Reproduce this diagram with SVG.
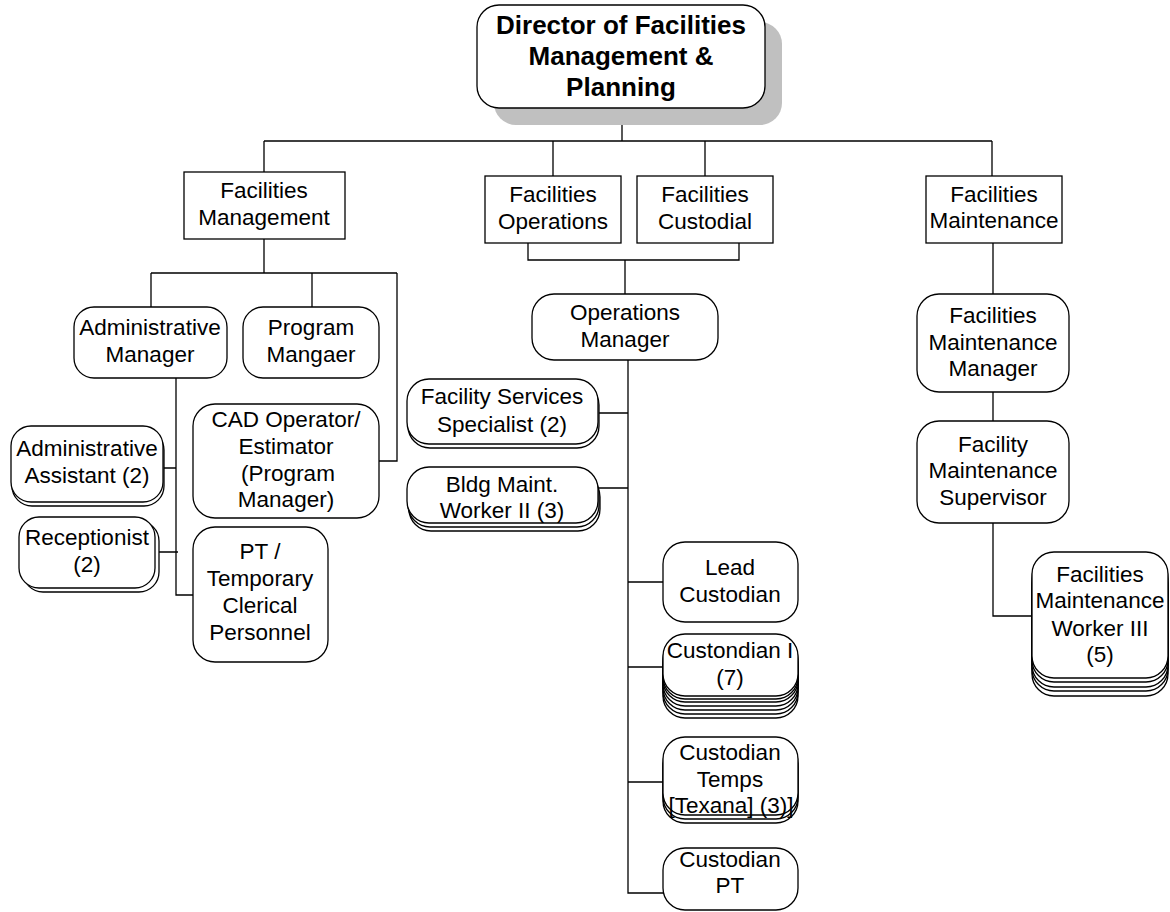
<svg xmlns="http://www.w3.org/2000/svg" width="1170" height="912" viewBox="0 0 1170 912">
  <style>
    .box { fill: #ffffff; stroke: #000000; stroke-width: 1.3; }
    .shadow { fill: #c0c0c0; stroke: none; }
    .link { fill: none; stroke: #000000; stroke-width: 1.3; }
    text { font-family: "Liberation Sans", Arial, sans-serif; font-size: 22.5px; fill: #000000; text-anchor: middle; }
    .title { font-size: 26px; font-weight: bold; }
  </style>

  <!-- connectors -->
  <g id="connectors">
    <path class="link" d="M622,108 V141 M264,141 H992 M264,141 V172 M553,141 V176 M705,141 V176 M992,141 V176"/>
    <!-- Facilities Management branch -->
    <path class="link" d="M264,239 V273 M151,273 H397 M151,273 V307 M312,273 V307 M397,273 V461 H379"/>
    <path class="link" d="M176,378 V595 H193 M163,468 H176 M155,552 H178"/>
    <!-- Operations / Custodial branch -->
    <path class="link" d="M528,243 V260 H739 V243 M625,260 V294"/>
    <path class="link" d="M628,360 V893 H663 M598,413 H628 M598,488 H628 M628,582 H663 M628,667 H663 M628,782 H663"/>
    <!-- Maintenance branch -->
    <path class="link" d="M993,243 V294 M993,392 V421 M993,523 V616 H1032"/>
  </g>

  <!-- top level -->
  <g id="director">
    <rect class="shadow" x="494" y="22" width="288" height="103" rx="22"/>
    <rect class="box" x="477" y="5" width="288" height="103" rx="22"/>
    <text class="title" x="621" y="34">Director of Facilities</text>
    <text class="title" x="621" y="65">Management &amp;</text>
    <text class="title" x="621" y="96">Planning</text>
  </g>

  <!-- departments -->
  <g id="facilities-management">
    <rect class="box" x="184" y="172" width="161" height="67"/>
    <text x="264" y="198">Facilities</text>
    <text x="264" y="225">Management</text>
  </g>
  <g id="facilities-operations">
    <rect class="box" x="485" y="176" width="136" height="67"/>
    <text x="553" y="202">Facilities</text>
    <text x="553" y="229">Operations</text>
  </g>
  <g id="facilities-custodial">
    <rect class="box" x="637" y="176" width="136" height="67"/>
    <text x="705" y="202">Facilities</text>
    <text x="705" y="229">Custodial</text>
  </g>
  <g id="facilities-maintenance">
    <rect class="box" x="926" y="176" width="136" height="67"/>
    <text x="994" y="202">Facilities</text>
    <text x="994" y="228">Maintenance</text>
  </g>

  <!-- Facilities Management staff -->
  <g id="administrative-manager">
    <rect class="box" x="74" y="307" width="153" height="71" rx="20"/>
    <text x="150" y="335">Administrative</text>
    <text x="150" y="362">Manager</text>
  </g>
  <g id="program-manager">
    <rect class="box" x="243" y="307" width="136" height="71" rx="20"/>
    <text x="311" y="335">Program</text>
    <text x="311" y="362">Mangaer</text>
  </g>
  <g id="administrative-assistant">
    <rect class="box" x="12" y="430" width="152" height="76" rx="20"/>
    <rect class="box" x="11" y="426" width="152" height="76" rx="20"/>
    <text x="87" y="456">Administrative</text>
    <text x="87" y="483">Assistant (2)</text>
  </g>
  <g id="receptionist">
    <rect class="box" x="23" y="521" width="136" height="71" rx="20"/>
    <rect class="box" x="19" y="517" width="136" height="71" rx="20"/>
    <text x="87" y="545">Receptionist</text>
    <text x="87" y="572">(2)</text>
  </g>
  <g id="cad-operator">
    <rect class="box" x="193" y="404" width="186" height="114" rx="22"/>
    <text x="286" y="427">CAD Operator/</text>
    <text x="286" y="454">Estimator</text>
    <text x="288" y="481">(Program</text>
    <text x="286" y="507">Manager)</text>
  </g>
  <g id="pt-temporary-clerical">
    <rect class="box" x="193" y="527" width="135" height="135" rx="22"/>
    <text x="260" y="559">PT /</text>
    <text x="260" y="586">Temporary</text>
    <text x="260" y="613">Clerical</text>
    <text x="260" y="640">Personnel</text>
  </g>

  <!-- Operations staff -->
  <g id="operations-manager">
    <rect class="box" x="532" y="294" width="186" height="66" rx="22"/>
    <text x="625" y="320">Operations</text>
    <text x="625" y="347">Manager</text>
  </g>
  <g id="facility-services-specialist">
    <rect class="box" x="408" y="383" width="191" height="65" rx="22"/>
    <rect class="box" x="407" y="379" width="191" height="65" rx="22"/>
    <text x="502" y="404">Facility Services</text>
    <text x="502" y="432">Specialist (2)</text>
  </g>
  <g id="bldg-maint-worker">
    <rect class="box" x="409" y="475" width="191" height="56" rx="22"/>
    <rect class="box" x="408" y="471" width="191" height="56" rx="22"/>
    <rect class="box" x="407" y="467" width="191" height="56" rx="22"/>
    <text x="502" y="492">Bldg Maint.</text>
    <text x="502" y="518">Worker II (3)</text>
  </g>
  <g id="lead-custodian">
    <rect class="box" x="663" y="542" width="135" height="80" rx="22"/>
    <text x="730" y="575">Lead</text>
    <text x="730" y="602">Custodian</text>
  </g>
  <g id="custodian-i">
    <rect class="box" x="663" y="656" width="135" height="62" rx="22"/>
    <rect class="box" x="663" y="652" width="135" height="62" rx="22"/>
    <rect class="box" x="663" y="648" width="135" height="62" rx="22"/>
    <rect class="box" x="663" y="644" width="135" height="62" rx="22"/>
    <rect class="box" x="663" y="640" width="135" height="62" rx="22"/>
    <rect class="box" x="663" y="637" width="135" height="62" rx="22"/>
    <rect class="box" x="663" y="634" width="135" height="62" rx="22"/>
    <text x="730" y="658">Custondian I</text>
    <text x="730" y="685">(7)</text>
  </g>
  <g id="custodian-temps">
    <rect class="box" x="663" y="745" width="135" height="78" rx="22"/>
    <rect class="box" x="663" y="741" width="135" height="78" rx="22"/>
    <rect class="box" x="663" y="737" width="135" height="78" rx="22"/>
    <text x="730" y="760">Custodian</text>
    <text x="730" y="787">Temps</text>
    <text x="731" y="813">[Texana] (3)]</text>
  </g>
  <g id="custodian-pt">
    <rect class="box" x="663" y="848" width="135" height="62" rx="22"/>
    <text x="730" y="867">Custodian</text>
    <text x="730" y="893">PT</text>
  </g>

  <!-- Maintenance staff -->
  <g id="facilities-maintenance-manager">
    <rect class="box" x="917" y="294" width="152" height="98" rx="22"/>
    <text x="993" y="323">Facilities</text>
    <text x="993" y="350">Maintenance</text>
    <text x="993" y="376">Manager</text>
  </g>
  <g id="facility-maintenance-supervisor">
    <rect class="box" x="917" y="421" width="152" height="102" rx="22"/>
    <text x="993" y="452">Facility</text>
    <text x="993" y="478">Maintenance</text>
    <text x="993" y="505">Supervisor</text>
  </g>
  <g id="facilities-maintenance-worker">
    <rect class="box" x="1032" y="570" width="136" height="126" rx="22"/>
    <rect class="box" x="1032" y="565" width="136" height="126" rx="22"/>
    <rect class="box" x="1032" y="561" width="136" height="126" rx="22"/>
    <rect class="box" x="1032" y="556" width="136" height="126" rx="22"/>
    <rect class="box" x="1032" y="552" width="136" height="126" rx="22"/>
    <text x="1100" y="582">Facilities</text>
    <text x="1100" y="608">Maintenance</text>
    <text x="1100" y="636">Worker III</text>
    <text x="1100" y="662">(5)</text>
  </g>
</svg>
